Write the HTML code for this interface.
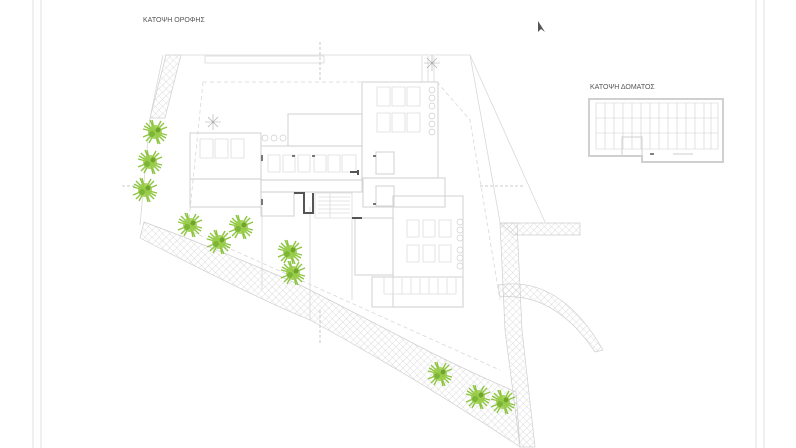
<!DOCTYPE html>
<html><head><meta charset="utf-8"><style>
html,body{margin:0;padding:0;background:#fff;width:796px;height:448px;overflow:hidden}
svg{display:block}
text{font-family:"Liberation Sans",sans-serif}
</style></head><body>
<svg width="796" height="448" viewBox="0 0 796 448" xmlns="http://www.w3.org/2000/svg">
<defs>
<pattern id="h" width="5" height="5" patternUnits="userSpaceOnUse" patternTransform="rotate(45)">
<path d="M0 0H5M0 0V5" stroke="#c4c4c4" stroke-width="0.6" fill="none"/>
</pattern>
<g id="tree">
<g stroke="#8cc63f" stroke-width="1.4" fill="none">
<path d="M-12 -3L12 3M-3 -12L3 12M-9 -9L9 9M9 -9L-9 9M-12 5L12 -5M-5 -12L5 12M-11 -6L11 6M6 -11L-6 11"/>
</g>
<circle r="7" fill="#9acd4a" opacity="0.85"/>
<circle cx="-3" cy="2" r="3" fill="#7db536"/>
<circle cx="3" cy="-2" r="2.5" fill="#6fa52a"/>
</g>
</defs>
<g stroke="#e0e0e0" stroke-width="1">
<line x1="33" y1="0" x2="33" y2="448"/><line x1="41" y1="0" x2="41" y2="448"/>
<line x1="756" y1="0" x2="756" y2="448"/><line x1="764" y1="0" x2="764" y2="448"/>
</g>
<text x="143" y="22" font-size="7" fill="#555">ΚΑΤΟΨΗ ΟΡΟΦΗΣ</text>
<text x="590" y="89" font-size="7" fill="#555">ΚΑΤΟΨΗ ΔΟΜΑΤΟΣ</text>
<path d="M538 21L538 32L541 29L545 32Z" fill="#555"/>

<g stroke="#cfcfcf" stroke-width="0.7">
<path d="M166 55L181 55L165 118L150 118Z" fill="url(#h)"/>
<path d="M144 222L140 238Q260 300 310 320Q420 380 520 447L516 392Q470 372 430 352Q330 300 300 285Q220 250 144 222Z" fill="url(#h)"/>
<path d="M500 223L517 223L522 330L535 447L522 447L520 447L505 330Z" fill="url(#h)"/>
<path d="M500 223L580 223L580 235L514 235Z" fill="url(#h)"/>
<path d="M498 285Q560 275 603 350L595 352Q555 292 500 297Z" fill="url(#h)"/>
</g>

<g stroke="#d8d8d8" stroke-width="0.8" fill="none">
<path d="M165 55L470 55L500 222"/>
<path d="M163 55L150 118L140 225"/>
<path d="M470 55L545 222"/>
<path d="M205 56H324V63H205Z"/>
<path d="M203 82H362" stroke-dasharray="4 3"/>
<path d="M203 82L188 230L300 280L500 370" stroke-dasharray="4 3"/>
<path d="M437 82L470 120L500 300" stroke-dasharray="4 3"/>
<path d="M320 42V82M320 310V345M122 186H140M480 186H525" stroke="#bbb" stroke-dasharray="3 2"/>
<path d="M262 207V290M310 207V320M352 218V300"/>
<path d="M422 56V82M428 56V82M434 56V82"/>
</g>

<g stroke="#d4d4d4" stroke-width="1.1" fill="none">
<rect x="190" y="133" width="71" height="46"/>
<rect x="190" y="179" width="71" height="28"/>
<rect x="288" y="114" width="74" height="32"/>
<rect x="362" y="82" width="76" height="96"/>
<rect x="363" y="178" width="82" height="29"/>
<rect x="261" y="146" width="101" height="34"/>
<rect x="261" y="180" width="101" height="12"/>
<rect x="261" y="192" width="33" height="24"/>
<rect x="355" y="218" width="38" height="57"/>
<rect x="393" y="196" width="70" height="111"/>
<rect x="372" y="277" width="91" height="30"/>
<rect x="376" y="152" width="18" height="22"/>
<rect x="376" y="186" width="18" height="20"/>
</g>
<g stroke="#dcdcdc" stroke-width="0.8" fill="none">
<path d="M315 193H352V218H315Z"/>
<path d="M318 197H350M318 201H350M318 205H350M318 209H350M318 213H350M330 193V218"/>
<path d="M268 155H280V172H268ZM283 155H295V172H283ZM298 155H310V172H298ZM314 155H326V172H314ZM328 155H340V172H328ZM342 155H356V172H342Z"/>
<path d="M377 87H390V106H377ZM392 87H405V106H392ZM407 87H420V106H407ZM377 113H390V132H377ZM392 113H405V132H392ZM407 113H420V132H407Z"/>
<path d="M200 139H213V158H200ZM215 139H228V158H215ZM231 139H244V158H231Z"/>
<path d="M407 220H419V237H407ZM423 220H435V237H423ZM439 220H451V237H439ZM407 245H419V262H407ZM423 245H435V262H423ZM439 245H451V262H439Z"/>
<path d="M384 278V294M393 278V294M402 278V294M411 278V294M420 278V294M429 278V294M438 278V294M447 278V294M456 278V294M384 294H456"/>
</g>
<g fill="none" stroke="#d0d0d0" stroke-width="0.7">
<circle cx="432" cy="90" r="3"/><circle cx="432" cy="98" r="3"/><circle cx="432" cy="106" r="3"/><circle cx="432" cy="116" r="3"/><circle cx="432" cy="124" r="3"/><circle cx="432" cy="132" r="3"/>
<circle cx="460" cy="222" r="3"/><circle cx="460" cy="230" r="3"/><circle cx="460" cy="238" r="3"/><circle cx="460" cy="250" r="3"/><circle cx="460" cy="258" r="3"/><circle cx="460" cy="266" r="3"/>
<circle cx="265" cy="138" r="3"/><circle cx="274" cy="138" r="3"/><circle cx="283" cy="138" r="3"/>
</g>
<g stroke="#555" stroke-width="2" fill="none">
<path d="M294 193H304V213H313V193"/>
<path d="M352 218H362"/><path d="M358 175V170M350 172H358"/>
</g>
<g fill="#777">
<rect x="261" y="155" width="2" height="6"/><rect x="261" y="199" width="2" height="6"/>
<rect x="292" y="155" width="3" height="2"/><rect x="312" y="155" width="3" height="2"/>
<rect x="373" y="155" width="3" height="2"/><rect x="373" y="203" width="3" height="2"/>
</g>

<use href="#tree" x="155" y="132"/><use href="#tree" x="150" y="162"/><use href="#tree" x="145" y="190"/>
<use href="#tree" x="190" y="225"/><use href="#tree" x="219" y="242"/><use href="#tree" x="241" y="227"/>
<use href="#tree" x="290" y="252"/><use href="#tree" x="293" y="273"/>
<use href="#tree" x="440" y="374"/><use href="#tree" x="478" y="397"/><use href="#tree" x="503" y="402"/>
<g stroke="#aaa" stroke-width="0.6" fill="none">
<path d="M208 117L218 127M218 117L208 127M205 122H221M213 114V130"/>
<path d="M427 58L437 68M437 58L427 68M424 63H440M432 55V71"/>
</g>

<g stroke="#d0d0d0" fill="none">
<path d="M589 99H723V162H642V156H589Z" stroke-width="2"/>
<g stroke-width="0.6">
<path d="M596 103H718V149H596Z"/>
<path d="M596 118H718M596 133H718"/>
<path d="M605 103V149M614 103V149M623 103V149M632 103V149M641 103V149M650 103V149M659 103V149M668 103V149M677 103V149M686 103V149M695 103V149M704 103V149M711 103V149"/>
<rect x="622" y="137" width="20" height="19" stroke-width="1"/>
</g>
</g>
<path d="M650 154h4" stroke="#555" stroke-width="1.5"/>
<path d="M673 154h20" stroke="#bbb" stroke-width="0.8"/>
</svg>
</body></html>
